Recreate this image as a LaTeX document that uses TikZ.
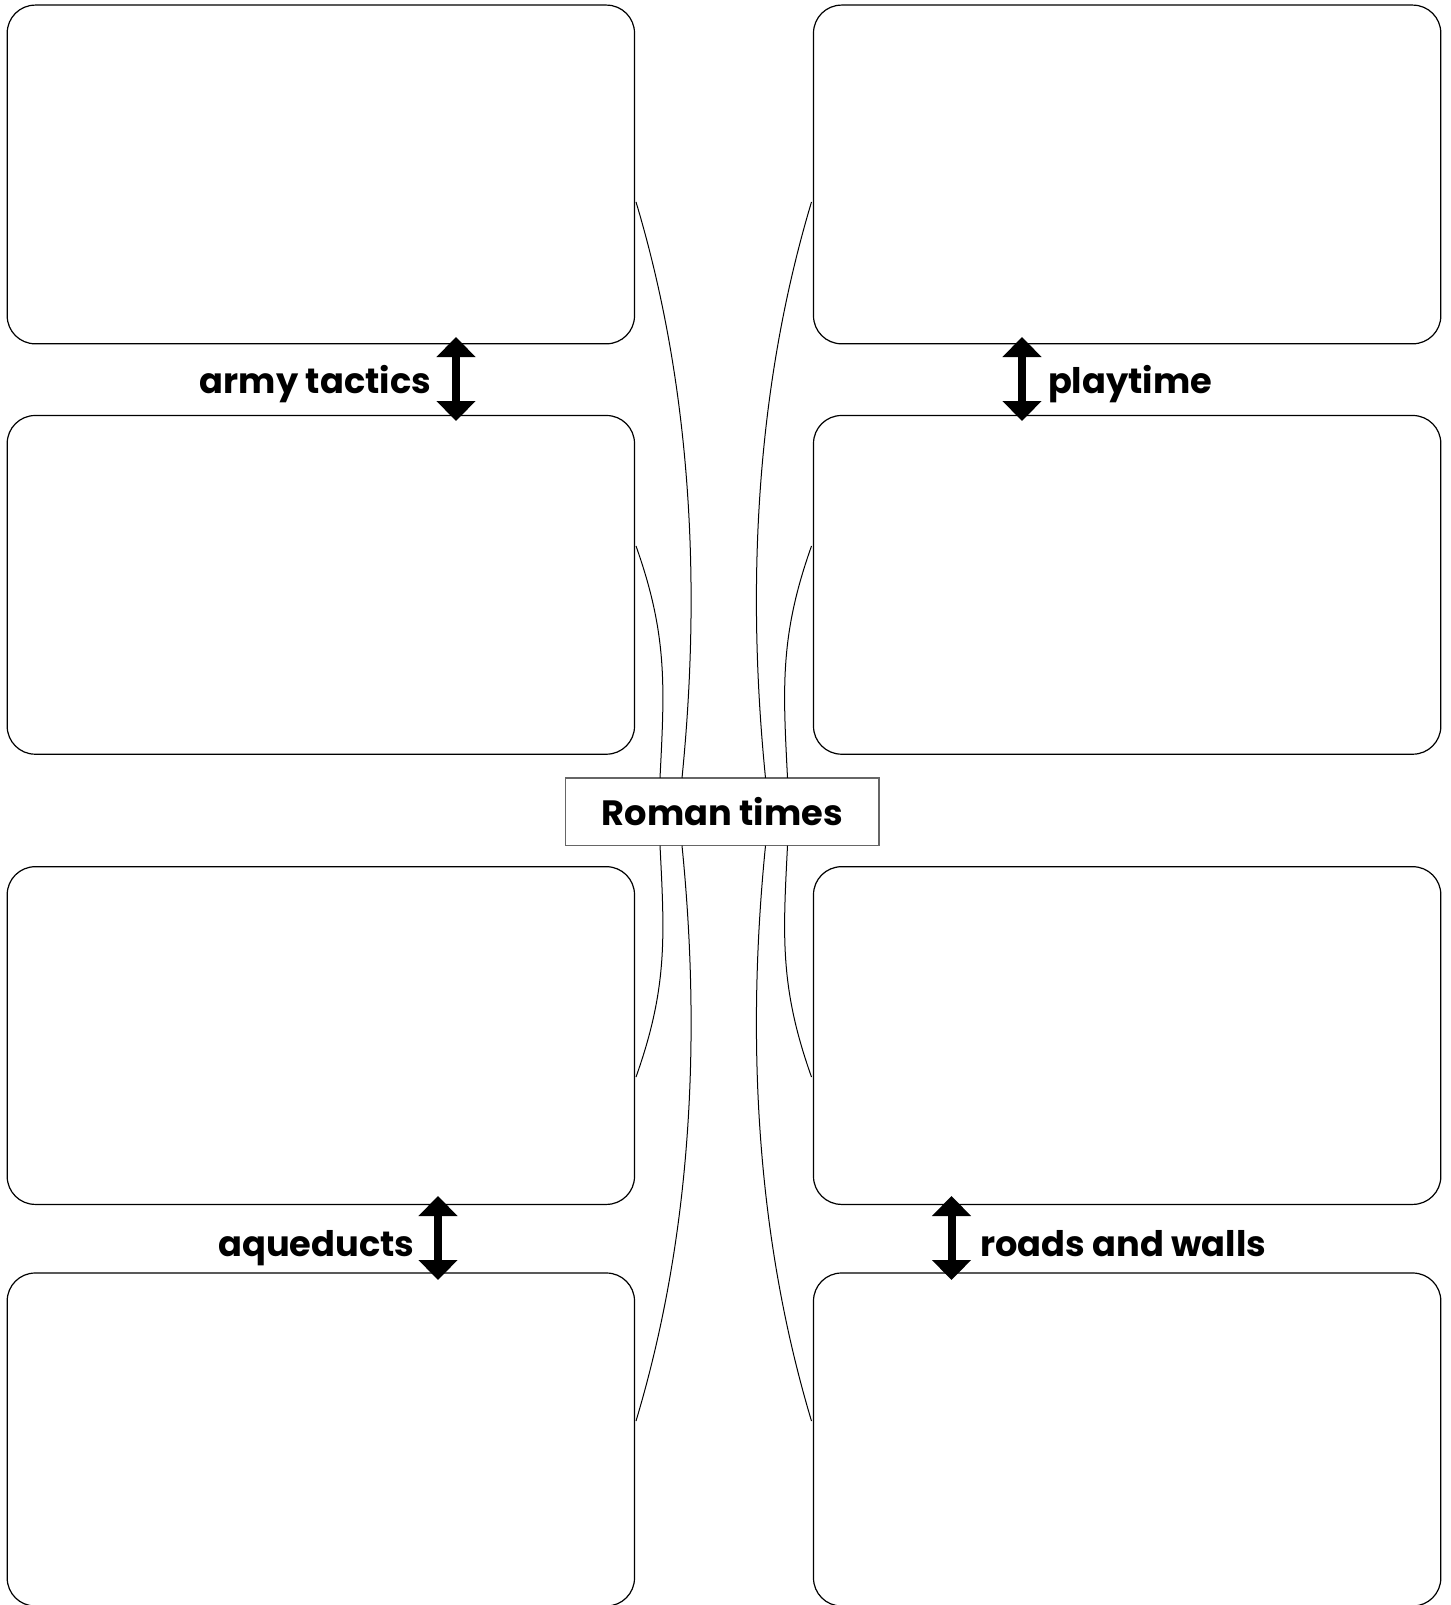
\documentclass[tikz,border=0pt]{standalone}
\usepackage{fontspec}
\setmainfont{Poppins}
\usetikzlibrary{arrows.meta}

\begin{document}
\begin{tikzpicture}[x=0.5pt, y=-0.5pt]
\tikzset{ >={Triangle[width=19pt,length=10pt]}, inner sep=0pt, outer sep=0pt,
  panel/.style={draw, line width=0.6pt, rounded corners=14pt, minimum width=313.65pt},
  title/.style={draw=black!60, fill=white, line width=0.6pt, minimum width=156.65pt, minimum height=33.85pt},
  tag/.style={font=\bfseries\fontsize{17.6pt}{21pt}\selectfont},
  spoke/.style={line width=0.5pt},
  twoway/.style={<->, line width=4pt},
}

\useasboundingbox (0,0) rectangle (1450,1605);
%\draw [lightgray, dashed, step=100](0,0) grid (1450,1605);

\node [panel, minimum height=169.35pt] (TL1) at (320.85,174.45) {};
\node [panel, minimum height=169.35pt] (TL2) at (320.85,584.85) {};
\node [panel, minimum height=168.85pt] (BL1) at (320.85,1035.55) {};
\node [panel, minimum height=166.5pt] (BL2) at (320.85,1439.5) {};

\node [panel, minimum height=169.35pt] (TR1) at (1127.15,174.45) {};
\node [panel, minimum height=169.35pt] (TR2) at (1127.15,584.85) {};
\node [panel, minimum height=168.85pt] (BR1) at (1127.15,1035.55) {};
\node [panel, minimum height=166.5pt] (BR2) at (1127.15,1439.5) {};

\node [title, tag] (R) at (722.3,811.8) {Roman times};

\draw [spoke] ([shift={(1.5,27.5)}]TL1.east) .. controls +(54,180) and +(20,-200) .. ([shift={(-40.3,0)}]R.north);
\draw [spoke] ([shift={(1.5,-38.85)}]TL2.east) .. controls +(32,90) and +(4.5,-90) .. ([shift={(-62.3,0)}]R.north);
\draw [spoke] ([shift={(1.5,41.45)}]BL1.east) .. controls +(32,-90) and +(4.5,90) .. ([shift={(-62.3,0)}]R.south);
\draw [spoke] ([shift={(1.5,-18.5)}]BL2.east) .. controls +(54,-180) and +(20,200) .. ([shift={(-40.3,0)}]R.south);

\draw [spoke] ([shift={(-2,27.5)}]TR1.west) .. controls +(-54,180) and +(-20,-200) .. ([shift={(43.2,0)}]R.north);
\draw [spoke] ([shift={(-2,-38.85)}]TR2.west) .. controls +(-32,90) and +(-4.5,-90) .. ([shift={(65.2,0)}]R.north);
\draw [spoke] ([shift={(-2,41.45)}]BR1.west) .. controls +(-32,-90) and +(-4.5,90) .. ([shift={(65.2,0)}]R.south);
\draw [spoke] ([shift={(-2,-18.5)}]BR2.west) .. controls +(-54,-180) and +(-20,200) .. ([shift={(43.2,0)}]R.south);

\coordinate (AT1) at (456,337);
\coordinate (AT2) at (456,421);
\coordinate (PT1) at (1022,337);
\coordinate (PT2) at (1022,421);
\coordinate (AQ1) at (438,1196);
\coordinate (AQ2) at (438,1280);
\coordinate (RW1) at (951.5,1196);
\coordinate (RW2) at (951.5,1280);

\draw [twoway] (AT1) -- (AT2);
\draw [twoway] (PT1) -- (PT2);
\draw [twoway] (AQ1) -- (AQ2);
\draw [twoway] (RW1) -- (RW2);

\node [tag, anchor=base east] (army) at (431,393) {army tactics};
\node [tag, anchor=base west] (play) at (1048,393) {playtime};
\node [tag, anchor=base east] (aque) at (414.5,1256) {aqueducts};
\node [tag, anchor=base west] (road) at (980,1256) {roads and walls};

\end{tikzpicture}
\end{document}
